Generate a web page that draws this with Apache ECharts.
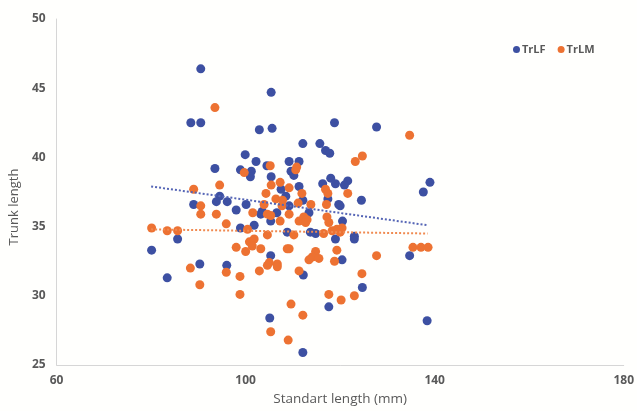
<!DOCTYPE html>
<html>
<head>
<meta charset="UTF-8">
<title>Trunk length</title>
<script src="https://cdn.jsdelivr.net/npm/echarts@6/dist/echarts.min.js"></script>
<style>
  html, body { margin: 0; padding: 0; width: 100%; height: 100%; overflow: hidden; background: #fffffd; }
  #main { width: 637px; height: 411px; }
</style>
</head>
<body>
<div id="main"></div>
<script>
// [standard length (mm), trunk length]
var trLF = [
  [90.5,46.4],[88.4,42.5],[90.5,42.5],[105.4,44.7],[118.8,42.5],[102.9,42.0],[105.6,42.1],[127.7,42.2],
  [93.5,39.2],[112.1,41.0],[115.7,41.0],[116.9,40.5],[117.8,40.3],[99.9,40.2],[102.2,39.7],[109.2,39.7],
  [111.3,39.7],[104.5,39.4],[98.9,39.1],[101.2,39.0],[101.0,38.6],[109.6,39.0],[110.2,38.7],[105.4,38.6],
  [118.0,38.5],[119.0,38.1],[121.6,38.3],[120.9,38.0],[116.3,38.1],[111.3,37.9],[94.5,37.2],[93.8,36.8],
  [96.1,36.8],[100.1,36.6],[109.2,36.5],[119.7,36.6],[117.4,37.0],[112.1,36.9],[107.5,37.7],[108.5,37.2],
  [89.0,36.6],[98.0,36.2],[103.5,36.1],[103.2,35.9],[106.6,36.0],[113.4,36.0],[120.0,36.5],[124.5,36.9],
  [101.8,35.1],[98.9,34.9],[105.3,35.4],[108.8,34.6],[113.7,34.6],[114.8,34.5],[120.5,35.4],[119.0,34.1],
  [123.0,34.3],[123.0,34.1],[105.3,32.9],[120.4,32.6],[96.0,32.2],[112.2,31.5],[124.7,30.6],[117.6,29.2],
  [105.1,28.4],[112.1,25.9],[85.6,34.1],[80.1,33.3],[90.3,32.3],[83.4,31.3],[137.6,37.5],[139.0,38.2],
  [134.7,32.9],[138.4,28.2]
];
var trLM = [
  [93.5,43.6],[134.7,41.6],[123.2,39.7],[124.7,40.1],[105.2,39.4],[99.7,38.9],[110.8,39.3],[110.6,39.1],
  [94.5,38.0],[105.4,38.0],[107.3,38.2],[109.2,37.8],[116.9,37.7],[117.4,37.4],[121.6,37.4],[104.3,37.4],
  [111.9,37.4],[103.9,36.6],[107.7,36.5],[111.1,36.7],[113.8,36.6],[117.1,36.6],[89.0,37.7],[90.5,36.5],
  [90.5,35.9],[93.8,35.9],[95.9,35.2],[80.1,34.9],[83.4,34.7],[85.6,34.7],[88.3,32.0],[90.3,30.8],
  [95.9,31.7],[101.5,36.0],[104.6,35.9],[105.3,35.8],[107.3,35.4],[109.2,35.9],[111.3,35.4],[112.3,35.7],
  [113.0,35.5],[112.7,35.3],[117.2,35.7],[117.6,35.3],[100.4,34.8],[104.6,34.4],[110.2,34.4],[116.5,34.5],
  [118.3,34.7],[119.3,34.8],[120.0,34.6],[120.4,34.9],[100.8,33.9],[101.8,34.1],[101.4,33.6],[103.2,33.4],
  [98.0,33.5],[100.0,33.2],[108.8,33.4],[109.2,33.4],[114.8,33.2],[114.1,32.8],[115.5,32.7],[113.4,32.6],
  [119.3,33.3],[118.8,32.5],[105.0,32.4],[104.6,32.2],[106.7,32.3],[106.7,32.1],[102.9,31.8],[98.8,31.4],
  [111.3,31.8],[124.6,31.6],[98.8,30.1],[109.6,29.4],[112.1,28.6],[117.6,30.1],[120.2,29.7],[123.0,30.0],
  [105.3,27.4],[109.0,26.8],[127.7,32.9],[135.4,33.5],[137.1,33.5],[138.6,33.5],[106.4,37.0],[107.8,36.9]
];
// linear trend lines, end points
var trendLF = [[80,37.9],[138.5,35.1]];
var trendLM = [[80,34.8],[138.5,34.5]];

var blue = '#3d50a2';
var orange = '#ed7232';
var labelColor = '#595959';

var chart = echarts.init(document.getElementById('main'));
var option = {
  backgroundColor: '#fffffd',
  textStyle: { fontFamily: 'Open Sans' },
  animation: false,
  legend: {
    left: 508, top: 39,
    icon: 'circle', itemWidth: 7, itemHeight: 7, itemGap: 12,
    textStyle: { color: labelColor, fontSize: 11, fontWeight: 'bold', padding: [0, 0, 0, -3] },
    data: ['TrLF', 'TrLM']
  },
  grid: { left: 56, right: 10, top: 19, bottom: 44 },
  xAxis: {
    type: 'value', min: 60, max: 180, interval: 40,
    name: 'Standart length (mm)', nameLocation: 'middle', nameGap: 27,
    nameTextStyle: { color: labelColor, fontSize: 13.5 },
    axisLine: { show: true, lineStyle: { color: '#d6d6d6' } },
    axisTick: { show: false },
    splitLine: { show: false },
    axisLabel: { color: labelColor, fontSize: 12, fontWeight: 'bold', margin: 10 }
  },
  yAxis: {
    type: 'value', min: 25, max: 50, interval: 5,
    name: 'Trunk length', nameLocation: 'middle', nameGap: 31,
    nameTextStyle: { color: labelColor, fontSize: 13, padding: [0, 30, 0, 0] },
    axisLine: { show: true, lineStyle: { color: '#d6d6d6' } },
    axisTick: { show: false },
    splitLine: { show: false },
    axisLabel: { color: labelColor, fontSize: 12, fontWeight: 'bold', margin: 11 }
  },
  series: [
    {
      name: 'TrLF', type: 'scatter', data: trLF, symbolSize: 9,
      itemStyle: { color: blue, opacity: 1 }
    },
    {
      name: 'TrLM', type: 'scatter', data: trLM, symbolSize: 9,
      itemStyle: { color: orange, opacity: 1 }
    },
    {
      name: 'TrLF trend', type: 'line', data: trendLF, symbol: 'none', silent: true,
      lineStyle: { color: '#5565b5', width: 2, type: [2, 2] }
    },
    {
      name: 'TrLM trend', type: 'line', data: trendLM, symbol: 'none', silent: true,
      lineStyle: { color: '#f08a50', width: 2, type: [2, 2] }
    }
  ]
};
chart.setOption(option);
window.onresize = function () { chart.resize(); };
</script>
</body>
</html>
